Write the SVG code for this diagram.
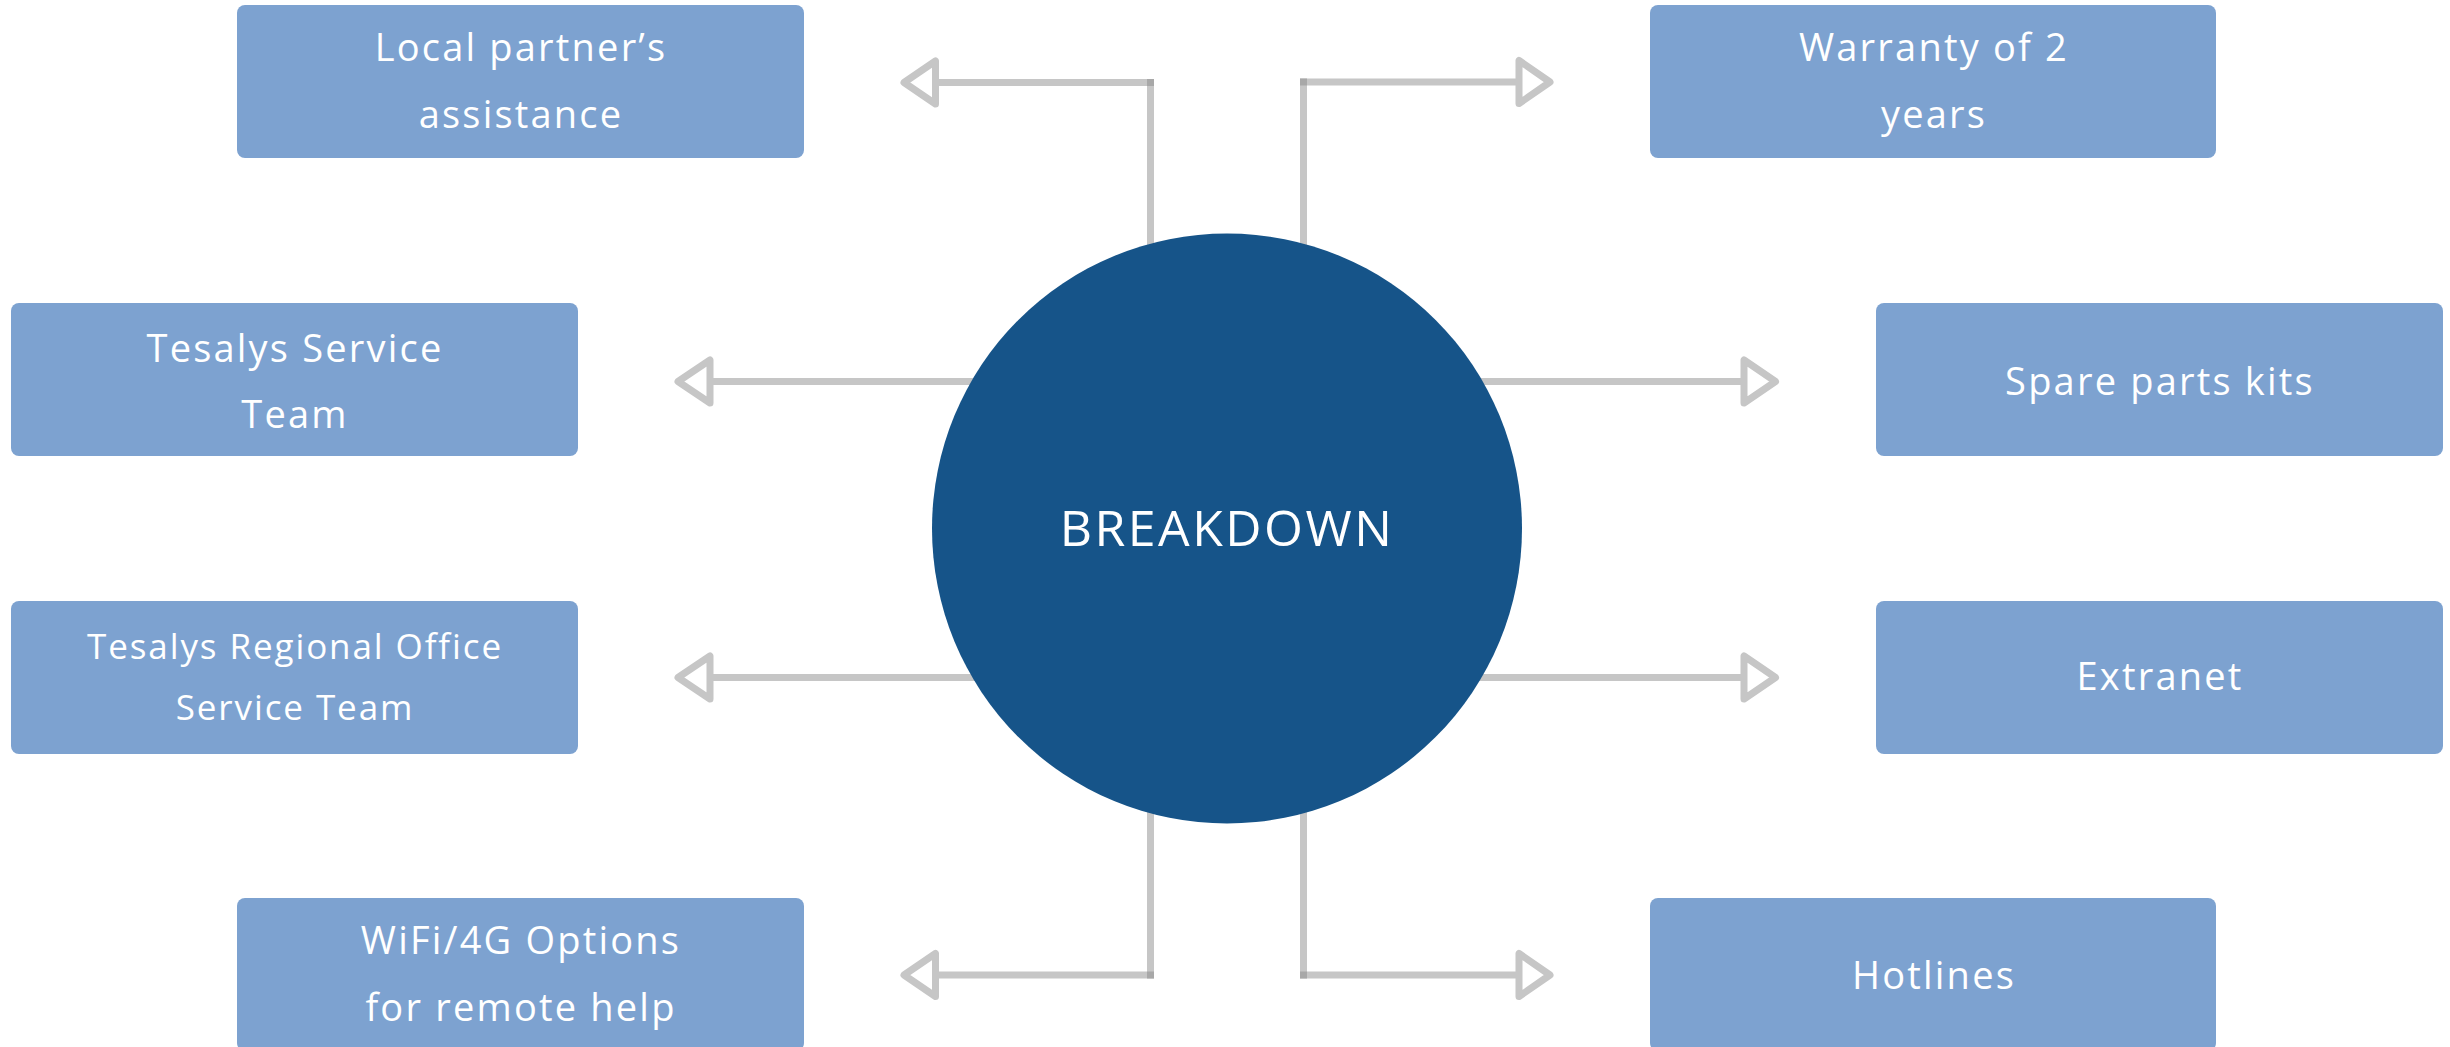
<svg xmlns="http://www.w3.org/2000/svg" width="2450" height="1047" viewBox="0 0 2450 1047">
<defs>
<style>
.box{fill:#7DA2D0;}
.lbl{font-family:"Open Sans","Liberation Sans",sans-serif;font-size:38px;fill:#FFFFFF;text-anchor:middle;letter-spacing:2.2px;}
.sm{font-size:35px;letter-spacing:1.9px;}
.conn{stroke:#C6C6C6;stroke-width:7;fill:none;}
.head{stroke:#C6C6C6;stroke-width:7;fill:#FFFFFF;stroke-linejoin:round;}
.knee{fill:#A8A8A8;}
.hub{fill:#165489;}
.hubtxt{font-family:"Open Sans","Liberation Sans",sans-serif;font-size:50px;fill:#FFFFFF;text-anchor:middle;letter-spacing:2.5px;}
</style>
</defs>
<rect width="2450" height="1047" fill="#FFFFFF"/>
<g id="connectors">
<path class="conn" d="M1150.5 300 V82.5 H935"/>
<rect class="knee" x="1147" y="79" width="7" height="7"/>
<polygon class="head" points="904,82.5 935.5,61 935.5,104"/>
<path class="conn" d="M1303.5 300 V82 H1519"/>
<rect class="knee" x="1300" y="78.5" width="7" height="7"/>
<polygon class="head" points="1550,82 1519,60.5 1519,103.5"/>
<path class="conn" d="M1000 381.5 H710"/>
<polygon class="head" points="678,381.5 710,360 710,403"/>
<path class="conn" d="M1000 677.5 H710"/>
<polygon class="head" points="678,677.5 710,656 710,699"/>
<path class="conn" d="M1450 381.5 H1744"/>
<polygon class="head" points="1775.5,381.5 1744,360 1744,403"/>
<path class="conn" d="M1450 677.5 H1744"/>
<polygon class="head" points="1775.5,677.5 1744,656 1744,699"/>
<path class="conn" d="M1150.5 760 V975 H935"/>
<rect class="knee" x="1147" y="971.5" width="7" height="7"/>
<polygon class="head" points="904,975 935.5,953.5 935.5,996.5"/>
<path class="conn" d="M1303.5 760 V975 H1519"/>
<rect class="knee" x="1300" y="971.5" width="7" height="7"/>
<polygon class="head" points="1550,975 1519,953.5 1519,996.5"/>
</g>
<g id="hub">
<circle class="hub" cx="1227" cy="528.5" r="295"/>
<text class="hubtxt" x="1227" y="546">BREAKDOWN</text>
</g>
<g id="local-partner">
<rect class="box" x="237" y="5" width="567" height="153" rx="8"/>
<text class="lbl" x="521" y="61">Local partner’s</text>
<text class="lbl" x="521" y="128">assistance</text>
</g>
<g id="warranty">
<rect class="box" x="1650" y="5" width="566" height="153" rx="8"/>
<text class="lbl" x="1934" y="61">Warranty of 2</text>
<text class="lbl" x="1934" y="128">years</text>
</g>
<g id="service-team">
<rect class="box" x="11" y="303" width="567" height="153" rx="8"/>
<text class="lbl" x="295" y="362">Tesalys Service</text>
<text class="lbl" x="295" y="428">Team</text>
</g>
<g id="spare-parts">
<rect class="box" x="1876" y="303" width="567" height="153" rx="8"/>
<text class="lbl" x="2160" y="395">Spare parts kits</text>
</g>
<g id="regional-office">
<rect class="box" x="11" y="601" width="567" height="153" rx="8"/>
<text class="lbl sm" x="295" y="659">Tesalys Regional Office</text>
<text class="lbl sm" x="295" y="720">Service Team</text>
</g>
<g id="extranet">
<rect class="box" x="1876" y="601" width="567" height="153" rx="8"/>
<text class="lbl" x="2160" y="690">Extranet</text>
</g>
<g id="wifi">
<rect class="box" x="237" y="898" width="567" height="153" rx="8"/>
<text class="lbl" x="521" y="954">WiFi/4G Options</text>
<text class="lbl" x="521" y="1021">for remote help</text>
</g>
<g id="hotlines">
<rect class="box" x="1650" y="898" width="566" height="153" rx="8"/>
<text class="lbl" x="1934" y="989">Hotlines</text>
</g>
</svg>
